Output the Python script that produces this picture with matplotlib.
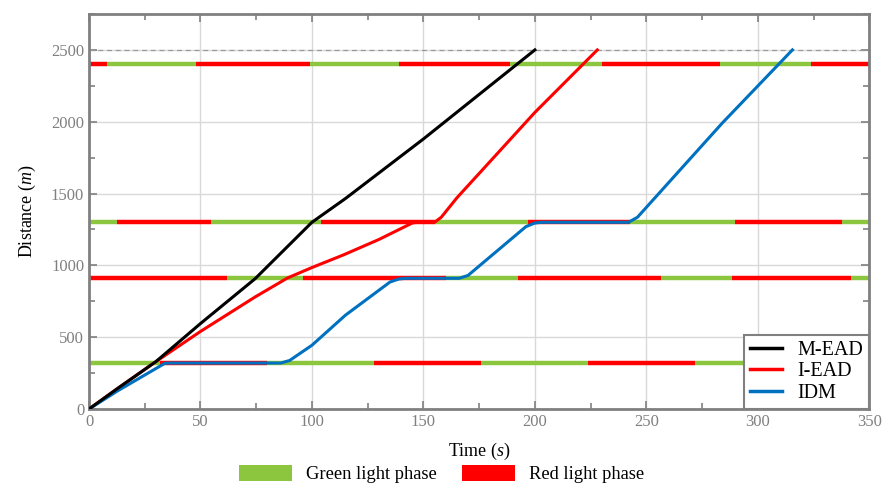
import matplotlib
matplotlib.use("Agg")
import matplotlib.pyplot as plt
from matplotlib.lines import Line2D
from matplotlib.patches import Patch
from matplotlib.ticker import MultipleLocator

plt.rcParams['font.family'] = ['Liberation Serif', 'DejaVu Serif']
plt.rcParams['mathtext.fontset'] = 'custom'
plt.rcParams['mathtext.it'] = 'Liberation Serif:italic'
plt.rcParams['mathtext.rm'] = 'Liberation Serif'

# Vehicle trajectories: time (s) and travelled distance (m)
mead_t = [0, 13, 30, 50, 74.5, 100, 115, 150, 175, 200]
mead_d = [0, 145, 330, 595, 907, 1300, 1465, 1880, 2190, 2500]

iead_t = [0, 13, 30, 50, 74.5, 89, 100, 114, 130, 145, 147, 155, 158, 165, 200, 228]
iead_d = [0, 145, 330, 540, 780, 912, 985, 1072, 1180, 1295, 1300, 1300, 1335, 1470, 2065, 2500]

idm_t = [0, 13, 34, 36, 86, 90, 100, 115, 135, 139, 142, 166, 170, 196, 200, 203, 242, 246, 284, 315.5]
idm_d = [0, 128, 318, 320, 320, 338, 444, 653, 884, 905, 910, 910, 930, 1270, 1295, 1300, 1300, 1335, 1990, 2500]

# Signalised intersections: position (m), phase switching times (s), first phase
signal_pos = [320, 910, 1300, 2400]
signal_switch = [
    [0, 32, 80, 128, 176, 224, 272, 350],
    [0, 61.7, 96, 160, 192.3, 256.4, 288.4, 342, 350],
    [0, 12.4, 54.5, 104, 155, 197, 242.5, 289.6, 337.8, 350],
    [0, 8, 48, 99, 139, 189, 230, 283, 324, 350],
]
signal_first = ['green', 'red', 'green', 'red']

road_end = 2500

GREEN = '#8cc63f'
RED = '#ff0000'
BLUE = '#0070c0'
GRAY = '#808080'

fig = plt.figure(figsize=(8.83, 4.86), dpi=100)
ax = fig.add_axes([0.1008, 0.1584, 0.8837, 0.8128])

ax.set_xlim(0, 350)
ax.set_ylim(0, 2750)

ax.grid(True, color='#d9d9d9', linewidth=1.0, zorder=0)
ax.set_axisbelow(True)

ax.axhline(road_end, color='#999999', linestyle=(0, (4, 3)), linewidth=0.9, zorder=1)

# Traffic-light phases drawn as coloured bars at each stop line
for pos, sw, first in zip(signal_pos, signal_switch, signal_first):
    colors = [GREEN, RED] if first == 'green' else [RED, GREEN]
    for i in range(len(sw) - 1):
        ax.plot([sw[i], sw[i + 1]], [pos, pos], color=colors[i % 2],
                linewidth=3.2, solid_capstyle='butt', zorder=2)

ax.plot(iead_t, iead_d, color=RED, linewidth=2.2, zorder=3, label='I-EAD')
ax.plot(idm_t, idm_d, color=BLUE, linewidth=2.2, zorder=4, label='IDM')
ax.plot(mead_t, mead_d, color='black', linewidth=2.2, zorder=5, label='M-EAD')

ax.xaxis.set_major_locator(MultipleLocator(50))
ax.xaxis.set_minor_locator(MultipleLocator(25))
ax.yaxis.set_major_locator(MultipleLocator(500))
ax.yaxis.set_minor_locator(MultipleLocator(250))
ax.set_yticks([0, 500, 1000, 1500, 2000, 2500])

ax.tick_params(which='both', direction='in', top=True, right=True,
               color=GRAY, width=1.2, labelsize=12, labelcolor=GRAY)
ax.tick_params(which='major', length=6)
ax.tick_params(which='minor', length=4)

for sp in ax.spines.values():
    sp.set_color(GRAY)
    sp.set_linewidth(2)

ax.set_xlabel('Time ($s$)', fontsize=13, labelpad=8)
ax.set_ylabel('Distance ($m$)', fontsize=13, labelpad=9)

handles = [Line2D([0], [0], color='black', lw=2.5),
           Line2D([0], [0], color=RED, lw=2.5),
           Line2D([0], [0], color=BLUE, lw=2.5)]
leg = ax.legend(handles, ['M-EAD', 'I-EAD', 'IDM'], loc='lower right',
                fontsize=14.5, frameon=True, fancybox=False, borderaxespad=0,
                handlelength=1.6, labelspacing=0.12, borderpad=0.3,
                handletextpad=0.75)
leg.get_frame().set_edgecolor(GRAY)
leg.get_frame().set_linewidth(1.5)
leg.get_frame().set_alpha(1)
leg.set_zorder(10)

phase_handles = [Patch(facecolor=GREEN, edgecolor='none'),
                 Patch(facecolor=RED, edgecolor='none')]
fig.legend(phase_handles, ['Green light phase', 'Red light phase'],
           loc='center', bbox_to_anchor=(0.5, 0.024), ncol=2,
           frameon=False, fontsize=13.3, handlelength=2.9, handleheight=0.95,
           columnspacing=1.35, handletextpad=0.75)

fig.savefig('out.png', dpi=100)
